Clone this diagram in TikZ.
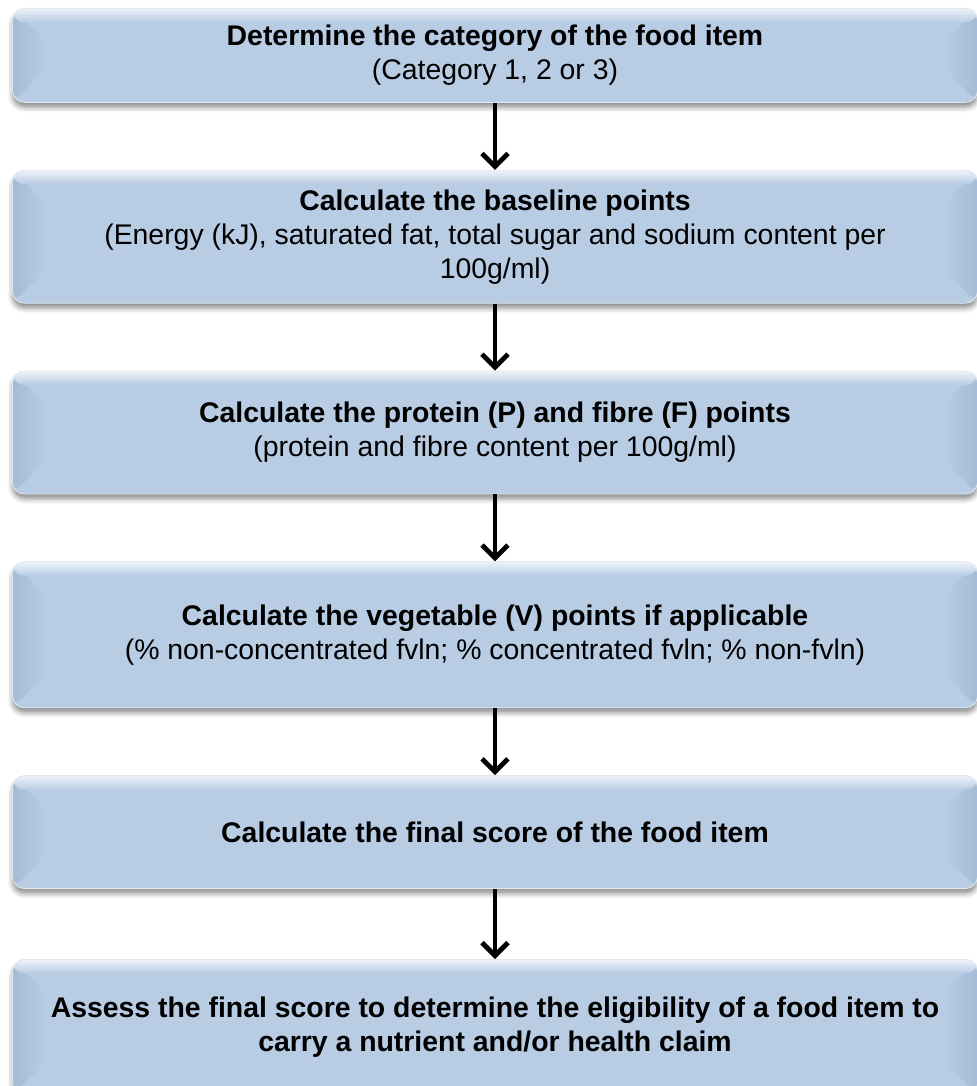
\documentclass[tikz,border=0pt]{standalone}
\usepackage{fontspec}
\setmainfont{Liberation Sans}
\usetikzlibrary{arrows.meta,positioning,shadows.blur,calc}

\definecolor{boxblue}{HTML}{B8CCE4}
\definecolor{bevelblue}{HTML}{A4BAD6}

\tikzset{
	stepbox/.style={rectangle, rounded corners=6pt, fill=boxblue,
		draw=white!55!boxblue, line width=0.4pt,
		minimum width=482.5pt, inner sep=0pt, align=center,
		font=\fontsize{14.2}{17}\selectfont,
		blur shadow={shadow xshift=0pt, shadow yshift=-2.5pt,
			shadow blur radius=2.5pt, shadow opacity=45},
		path picture={
			\coordinate (nw) at (path picture bounding box.north west);
			\coordinate (ne) at (path picture bounding box.north east);
			\coordinate (sw) at (path picture bounding box.south west);
			\coordinate (se) at (path picture bounding box.south east);
			\fill[left color=bevelblue, right color=boxblue]
				(nw) -- ++(17pt,-17pt) -- ($(sw)+(17pt,17pt)$) -- (sw) -- cycle;
			\fill[right color=bevelblue, left color=boxblue]
				(ne) -- ++(-17pt,-17pt) -- ($(se)+(-17pt,17pt)$) -- (se) -- cycle;
			\fill[top color=white!75!boxblue, bottom color=boxblue]
				(nw) rectangle ($(ne)+(0,-7pt)$);
		}}
}

\begin{document}
\begin{tikzpicture}[>={Straight Barb[length=6.5pt,width=13pt]}, node distance=33.5pt]
	\useasboundingbox (0,0) rectangle (488pt,-543pt);

	% Steps, top to bottom
	\node [stepbox, minimum height=47pt, anchor=north] (b1) at (247.5pt,-4pt)
		{\textbf{Determine the category of the food item}\\(Category 1, 2 or 3)};
	\node [stepbox, minimum height=66.5pt] (b2) [below=of b1]
		{\textbf{Calculate the baseline points}\\(Energy (kJ), saturated fat, total sugar and sodium content per\\100g/ml)};
	\node [stepbox, minimum height=61.5pt] (b3) [below=of b2]
		{\textbf{Calculate the protein (P) and fibre (F) points}\\(protein and fibre content per 100g/ml)};
	\node [stepbox, minimum height=73pt] (b4) [below=of b3]
		{\textbf{Calculate the vegetable (V) points if applicable}\\(\% non-concentrated fvln; \% concentrated fvln; \% non-fvln)};
	\node [stepbox, minimum height=56.5pt] (b5) [below=of b4]
		{\textbf{Calculate the final score of the food item}};
	\node [stepbox, minimum height=68pt] (b6) [below=35pt of b5]
		{\textbf{Assess the final score to determine the eligibility of a food item to}\\\textbf{carry a nutrient and/or health claim}};

	% Arrows between steps
	\path [->, line width=2.4pt]
		(b1) edge (b2)
		(b2) edge (b3)
		(b3) edge (b4)
		(b4) edge (b5)
		(b5) edge (b6);
\end{tikzpicture}
\end{document}
